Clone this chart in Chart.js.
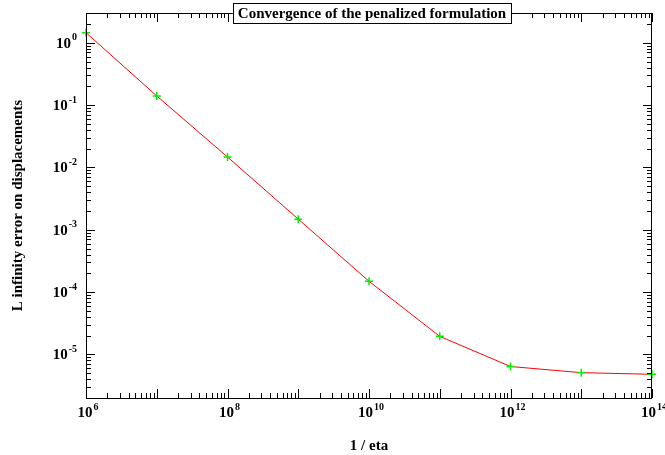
<!DOCTYPE html>
<html>
<head>
<meta charset="utf-8">
<script src="https://cdn.jsdelivr.net/npm/chart.js@4/dist/chart.umd.min.js"></script>
<style>
  body { margin: 0; background: #fff; }
  #wrap { width: 665px; height: 455px; }
</style>
</head>
<body>
<div id="wrap"><canvas id="myChart"></canvas></div>
<script>
// data
var eta = [1e6, 1e7, 1e8, 1e9, 1e10, 1e11, 1e12, 1e13, 1e14];
var errInf = [1.45, 0.14, 0.0147, 0.00148, 1.49e-4, 1.95e-5, 6.4e-6, 5.1e-6, 4.8e-6];
var xLabelExps = [6, 8, 10, 12, 14];
var yLabelExps = [-5, -4, -3, -2, -1, 0];
var xRange = [1e6, 1e14];
var yRange = [2e-6, 3];

var serif = '"Liberation Serif", "DejaVu Serif", serif';

function supLabel(ctx, base, exp, x, y, align) {
  ctx.font = 'bold 15px ' + serif;
  var wb = ctx.measureText(base).width;
  ctx.font = 'bold 10px ' + serif;
  var we = ctx.measureText(exp).width;
  var w = wb + 1 + we;
  var x0 = align == 'right' ? x - w : x - w / 2;
  ctx.textAlign = 'left';
  ctx.textBaseline = 'middle';
  ctx.font = 'bold 15px ' + serif;
  ctx.fillText(base, x0, y);
  ctx.font = 'bold 10px ' + serif;
  ctx.fillText(exp, x0 + wb + 1, y - 6);
}

// frame, inward ticks on all four sides, decade labels, boxed title
var frameTicks = {
  id: 'frameTicks',
  afterDraw: function(chart) {
    var ctx = chart.ctx, a = chart.chartArea;
    var x = chart.scales.x, y = chart.scales.y;
    ctx.save();
    ctx.strokeStyle = '#000';
    ctx.lineWidth = 1;
    ctx.strokeRect(a.left + 0.5, a.top + 0.5, a.right - a.left - 1, a.bottom - a.top);

    ctx.beginPath();
    for (var e = 6; e <= 14; e++) {
      for (var m = 1; m <= 9; m++) {
        var v = m * Math.pow(10, e);
        if (v < xRange[0] || v > xRange[1]) continue;
        var px = Math.round(x.getPixelForValue(v)) + 0.5;
        var len = m == 1 ? 9 : 5;
        ctx.moveTo(px, a.bottom); ctx.lineTo(px, a.bottom - len);
        ctx.moveTo(px, a.top); ctx.lineTo(px, a.top + len);
      }
    }
    for (var e = -6; e <= 0; e++) {
      for (var m = 1; m <= 9; m++) {
        var v = m * Math.pow(10, e);
        if (v < yRange[0] || v > yRange[1]) continue;
        var py = Math.round(y.getPixelForValue(v)) + 0.5;
        var len = m == 1 ? 9 : 5;
        ctx.moveTo(a.left, py); ctx.lineTo(a.left + len, py);
        ctx.moveTo(a.right, py); ctx.lineTo(a.right - len, py);
      }
    }
    ctx.stroke();

    ctx.fillStyle = '#000';
    xLabelExps.forEach(function(e) {
      supLabel(ctx, '10', String(e), x.getPixelForValue(Math.pow(10, e)) + 2, a.bottom + 15, 'center');
    });
    yLabelExps.forEach(function(e) {
      supLabel(ctx, '10', String(e), a.left - 9, y.getPixelForValue(Math.pow(10, e)) + 1, 'right');
    });

    // title box
    var title = 'Convergence of the penalized formulation';
    ctx.font = 'bold 15px ' + serif;
    var tw = ctx.measureText(title).width;
    var cx = (a.left + a.right) / 2 + 3;
    ctx.fillStyle = '#fff';
    ctx.fillRect(cx - tw / 2 - 5, 3, tw + 10, 20);
    ctx.strokeRect(Math.round(cx - tw / 2 - 5) + 0.5, 3.5, Math.round(tw + 10), 20);
    ctx.fillStyle = '#000';
    ctx.textAlign = 'center';
    ctx.textBaseline = 'middle';
    ctx.fillText(title, cx, 14);
    ctx.restore();
  }
};

var ctx = document.getElementById('myChart');
var myChart = new Chart(ctx, {
  type: 'line',
  data: {
    datasets: [{
      label: 'L infinity error',
      data: eta.map(function(v, i) { return { x: v, y: errInf[i] }; }),
      borderColor: '#ff0000',
      borderWidth: 1,
      tension: 0,
      clip: false,
      pointStyle: 'cross',
      pointRadius: 4,
      pointBorderColor: '#00ee00',
      pointBorderWidth: 1.5,
      pointBackgroundColor: '#00ee00'
    }]
  },
  options: {
    responsive: true,
    maintainAspectRatio: false,
    animation: false,
    events: [],
    layout: { padding: { top: 13, right: 13, left: 0, bottom: 0 } },
    plugins: { legend: { display: false }, tooltip: { enabled: false } },
    scales: {
      x: {
        type: 'logarithmic',
        min: xRange[0], max: xRange[1],
        grid: { display: false },
        border: { display: false },
        ticks: { display: false },
        afterBuildTicks: function(s) { s.ticks = xLabelExps.map(function(e) { return { value: Math.pow(10, e) }; }); },
        afterFit: function(s) { s.height = 57; },
        title: { display: true, text: '1 / eta', color: '#000', font: { family: serif, size: 15, weight: 'bold' }, padding: { top: 0, bottom: 0 } }
      },
      y: {
        type: 'logarithmic',
        min: yRange[0], max: yRange[1],
        grid: { display: false },
        border: { display: false },
        ticks: { display: false },
        afterBuildTicks: function(s) { s.ticks = yLabelExps.map(function(e) { return { value: Math.pow(10, e) }; }); },
        afterFit: function(s) { s.width = 86; },
        title: { display: true, text: 'L infinity error on displacements', color: '#000', font: { family: serif, size: 15, weight: 'bold' }, padding: { top: 9, bottom: 0 } }
      }
    }
  },
  plugins: [frameTicks]
});
</script>
</body>
</html>
